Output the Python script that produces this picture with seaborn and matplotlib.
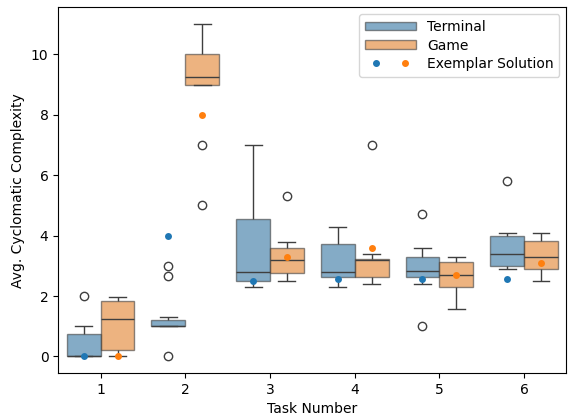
import numpy as np
import pandas as pd
import matplotlib
matplotlib.use("Agg")
import matplotlib.pyplot as plt
import seaborn as sns
from matplotlib.patches import Patch
from matplotlib.lines import Line2D
from matplotlib.legend_handler import HandlerTuple

tasks = [1, 2, 3, 4, 5, 6]
groups = ["Terminal", "Game"]

terminal_t1 = [0, 0, 0, 0, 0, 0.5, 0.73, 1.0, 2.0]
terminal_t2 = [0, 1, 1, 1, 1, 1, 1, 1.1, 1.15, 1.21, 1.3, 2.67, 3.0]
terminal_t3 = [2.29, 2.4, 2.51, 2.6, 2.78, 3.5, 4.56, 5.5, 7.0]
terminal_t4 = [2.29, 2.5, 2.62, 2.7, 2.78, 3.2, 3.73, 4.0, 4.29]
terminal_t5 = [1.0, 2.39, 2.62, 2.7, 2.84, 3.0, 3.29, 3.59, 4.7]
terminal_t6 = [2.88, 2.95, 2.99, 3.2, 3.39, 3.7, 3.98, 4.08, 5.8]

game_t1 = [0, 0.1, 0.23, 0.8, 1.23, 1.5, 1.85, 1.9, 1.98]
game_t2 = [5.0, 7.0, 9.0, 9.1, 9.24, 9.5, 10.0, 10.5, 11.0]
game_t3 = [2.49, 2.6, 2.76, 3.0, 3.18, 3.4, 3.59, 3.79, 5.3]
game_t4 = [2.39, 2.5, 2.64, 3.0, 3.18, 3.2, 3.24, 3.39, 7.0]
game_t5 = [1.58, 2.0, 2.31, 2.5, 2.70, 2.9, 3.12, 3.2, 3.28]
game_t6 = [2.49, 2.7, 2.88, 3.1, 3.29, 3.5, 3.83, 4.0, 4.08]

exemplar_terminal = [0, 4.0, 2.5, 2.58, 2.58, 2.58]
exemplar_game = [0, 8.0, 3.3, 3.6, 2.7, 3.1]

terminal_data = [terminal_t1, terminal_t2, terminal_t3, terminal_t4, terminal_t5, terminal_t6]
game_data = [game_t1, game_t2, game_t3, game_t4, game_t5, game_t6]

rows = []
for t, tv, gv in zip(tasks, terminal_data, game_data):
    rows += [(t, "Terminal", v) for v in tv]
    rows += [(t, "Game", v) for v in gv]
df = pd.DataFrame(rows, columns=["Task Number", "Group", "Avg. Cyclomatic Complexity"])

ex_rows = []
for t, a, b in zip(tasks, exemplar_terminal, exemplar_game):
    ex_rows.append((t, "Terminal", a))
    ex_rows.append((t, "Game", b))
ex = pd.DataFrame(ex_rows, columns=["Task Number", "Group", "Avg. Cyclomatic Complexity"])

palette = {"Terminal": "tab:blue", "Game": "tab:orange"}

fig = plt.figure(figsize=(5.68, 4.15), dpi=100)
ax = fig.add_axes([0.1026, 0.101, 0.8946, 0.881])

sns.boxplot(data=df, x="Task Number", y="Avg. Cyclomatic Complexity", hue="Group",
            hue_order=groups, palette=palette, ax=ax, legend=False, width=0.8)
for p in ax.patches:
    p.set_alpha(0.6)

sns.stripplot(data=ex, x="Task Number", y="Avg. Cyclomatic Complexity", hue="Group",
              hue_order=groups, palette=palette, dodge=True, jitter=False, size=5,
              ax=ax, legend=False, zorder=5)

ax.set_xlim(-0.5, 5.5)

sat_b = sns.desaturate("tab:blue", 0.75)
sat_o = sns.desaturate("tab:orange", 0.75)
edge = ax.patches[0].get_edgecolor()
h1 = Patch(facecolor=sat_b, edgecolor=edge[:3], alpha=0.6)
h2 = Patch(facecolor=sat_o, edgecolor=edge[:3], alpha=0.6)
d1 = Line2D([], [], marker="o", linestyle="", color="tab:blue", markersize=4)
d2 = Line2D([], [], marker="o", linestyle="", color="tab:orange", markersize=4)
ax.legend([h1, h2, (d1, d2)], ["Terminal", "Game", "Exemplar Solution"],
          handler_map={tuple: HandlerTuple(ndivide=None)}, loc="upper right",
          handlelength=3.7, labelspacing=0.33, handleheight=0.6)

fig.savefig("out.png", dpi=100)
